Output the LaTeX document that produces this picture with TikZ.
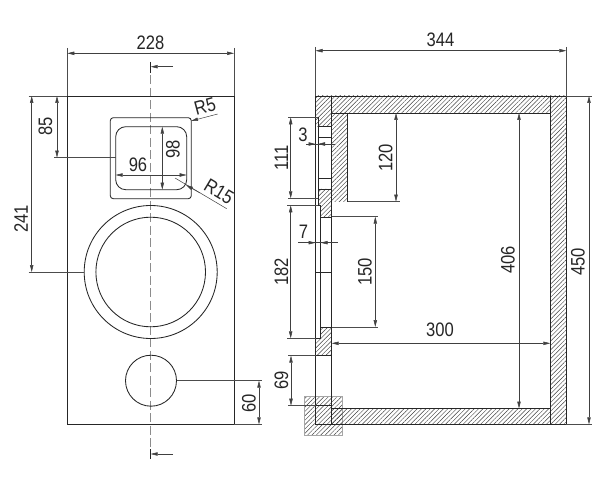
\documentclass[tikz,border=0pt]{standalone}
\usepackage{fontspec}
\setmainfont[FakeStretch=0.85]{Liberation Sans}
\usetikzlibrary{arrows.meta,patterns.meta}
\tikzset{
  outline/.style={draw=black!85,line width=0.85pt},
  thin line/.style={draw=black!70,line width=0.55pt},
  dim/.style={draw=black!75,line width=0.5pt,{Stealth[length=7pt,width=3.4pt,inset=0pt]}-{Stealth[length=7pt,width=3.4pt,inset=0pt]}},
  halfdim/.style={draw=black!75,line width=0.5pt},
  tip/.style={-{Stealth[length=7pt,width=3.4pt,inset=0pt]}},
  hatch/.style={pattern={Lines[angle=45,distance=3.1pt,line width=0.45pt]},pattern color=black!75},
  lab/.style={font=\fontsize{19.5}{20}\selectfont,text=black!85,inner sep=0pt},
  lab90/.style={lab,rotate=90},
  centre/.style={draw=black!45,line width=0.7pt,dash pattern=on 9pt off 3.5pt}
}
\begin{document}
\begin{tikzpicture}[x=1pt,y=-1pt]
\useasboundingbox (0,0) rectangle (600,484);
\fill[white] (0,0) rectangle (600,484);
% ---------- front view
\draw[centre] (150.7,63) -- (150.7,459);
\draw[outline] (67.3,96) rectangle (234,424.3);
\draw[outline,rounded corners=3pt] (110.3,117.7) rectangle (191.3,198.7);
\draw[outline,rounded corners=10pt] (115.7,126.7) rectangle (186.7,189.7);
\draw[outline] (150.7,272) circle[radius=66.5pt];
\draw[outline] (150.7,272) circle[radius=54.8pt];
\draw[outline] (151,380.7) circle[radius=25.5pt];
% section marks
\draw[outline] (150.7,62) -- (150.7,73);
\draw[halfdim,tip] (173,66.7) -- (150.7,66.7);
\draw[outline] (150.7,449) -- (150.7,459);
\draw[halfdim,tip] (173,454) -- (150.7,454);
% front dims
\draw[thin line] (67.3,48) -- (67.3,96) (234,48) -- (234,96);
\draw[dim] (67.3,53.3) -- (234,53.3);
\node[lab] (t228) at (150.5,43) {228};
\draw[thin line] (28.5,96) -- (67.3,96) (28.5,272) -- (84.2,272);
\draw[dim] (31.7,96) -- (31.7,272);
\node[lab90] (t241) at (21,219) {241};
\draw[thin line] (54,157.7) -- (115.7,157.7);
\draw[dim] (57,96) -- (57,157.7);
\node[lab90] (t85) at (45.5,126.7) {85};
\draw[dim] (115.7,175) -- (186.7,175);
\node[lab] (t96) at (138,165) {96};
\draw[dim] (162.3,126.7) -- (162.3,189.7);
\node[lab90] (t98) at (173,149.5) {98};
\draw[halfdim,tip] (217.7,114) -- (191,121);
\node[lab,rotate=15] (tr5) at (205,106.5) {R5};
\draw[halfdim] (175,178) -- (226.7,208.7);
\draw[halfdim,tip] (200,193) -- (186,185);
\node[lab,rotate=-31] (tr15) at (219,191.5) {R15};
\draw[thin line] (176.5,380.7) -- (262,380.7) (234,424.3) -- (262,424.3);
\draw[dim] (259,380.7) -- (259,424.3);
\node[lab90] (t60) at (249,403) {60};
% ---------- side view hatching
\fill[hatch] (304.3,396.7) rectangle (342.3,435);
\draw[black!35,line width=0.5pt] (304.3,396.7) rectangle (342.3,435);
\fill[hatch] (331.7,96) rectangle (550.3,113);
\fill[hatch] (550.3,96) rectangle (566.3,424.3);
\fill[hatch] (331.7,408.5) rectangle (550.3,424.3);
\fill[hatch] (315.5,96) rectangle (331.7,126.7);
\fill[hatch] (331.7,113) rectangle (347.7,201.7);
\fill[hatch] (318,189) -- (331.7,189) -- (331.7,217.3) -- (320.7,217.3) -- (320.7,205) -- (318,205) -- cycle;
\fill[hatch] (320.7,327) -- (331.7,327) -- (331.7,355.7) -- (315.5,355.7) -- (315.5,338.3) -- (320.7,338.3) -- cycle;
% side view outlines
\draw[outline] (315.5,96) rectangle (566.3,424.3);
\draw[outline] (331.7,96) -- (331.7,424.3);
\draw[outline] (550.3,96) -- (550.3,424.3);
\draw[outline] (331.7,113) -- (550.3,113);
\draw[outline] (331.7,408.5) -- (550.3,408.5);
\draw[outline] (347.7,113) -- (347.7,201.7);
\draw[outline] (318,117.3) -- (318,205) -- (320.7,205) -- (320.7,338.3) -- (315.5,338.3);
\draw[outline] (318,126.7) -- (331.7,126.7) (318,137.3) -- (331.7,137.3);
\draw[outline] (318,178.3) -- (331.7,178.3) (318,189) -- (331.7,189);
\draw[outline] (320.7,217.3) -- (331.7,217.3);
\draw[outline] (315.5,272.3) -- (331.7,272.3);
\draw[outline] (320.7,327) -- (331.7,327);
\draw[outline] (315.5,355.7) -- (331.7,355.7);
\draw[outline] (315.5,405.7) -- (331.7,405.7);
% side dims
\draw[thin line] (315.5,47) -- (315.5,96) (566.3,47) -- (566.3,96);
\draw[dim] (315.5,50.7) -- (566.3,50.7);
\node[lab] (t344) at (440.5,40) {344};
\draw[thin line] (566.3,96) -- (592,96) (566.3,424.3) -- (592,424.3);
\draw[dim] (589,96) -- (589,424.3);
\node[lab90] (t450) at (578,262) {450};
\draw[dim] (519,113) -- (519,408.5);
\node[lab90] (t406) at (508,260) {406};
\draw[dim] (331.7,343.3) -- (550.3,343.3);
\node[lab] (t300) at (440,330) {300};
\draw[thin line] (347.7,201.7) -- (400,201.7);
\draw[dim] (396,113) -- (396,201.7);
\node[lab90] (t120) at (385.7,158) {120};
\draw[thin line] (331.7,216.7) -- (378,216.7) (331.7,327) -- (378,327);
\draw[dim] (375.3,216.7) -- (375.3,327);
\node[lab90] (t150) at (365,271.7) {150};
\draw[thin line] (288,117.3) -- (318,117.3) (288,198.3) -- (318,198.3);
\draw[dim] (290.7,117.3) -- (290.7,198.3);
\node[lab90] (t111) at (281.5,158) {111};
\draw[thin line] (287,205.3) -- (318,205.3) (287,338.3) -- (315.5,338.3);
\draw[dim] (290.7,205.3) -- (290.7,338.3);
\node[lab90] (t182) at (281.5,271.7) {182};
\draw[thin line] (288,355.7) -- (315.5,355.7) (288,405.7) -- (315.5,405.7);
\draw[dim] (291,355.7) -- (291,405.7);
\node[lab90] (t69) at (281.5,380.7) {69};
% small dims with outside arrows
\draw[halfdim] (306,144) -- (335,144);
\draw[halfdim,tip] (307,144) -- (315.5,144);
\draw[halfdim,tip] (327,144) -- (318,144);
\node[lab] (t3) at (303,135) {3};
\draw[halfdim] (298,242.7) -- (338,242.7);
\draw[halfdim,tip] (306,242.7) -- (315.5,242.7);
\draw[halfdim,tip] (330,242.7) -- (320.7,242.7);
\node[lab] (t7) at (303.5,232) {7};
\end{tikzpicture}
\end{document}
